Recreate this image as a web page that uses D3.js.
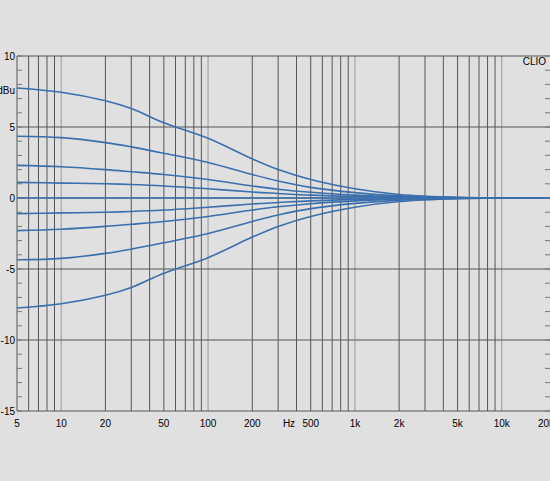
<!DOCTYPE html><html><head><meta charset="utf-8"><script src="https://cdn.jsdelivr.net/npm/d3@7"></script>
<style>body{margin:0;background:#e0e0e0}text{font-family:"Liberation Sans",Arial,sans-serif;font-size:10px;fill:#000}</style></head><body>
<svg id="c" width="550" height="481"></svg>
<script>
const freqs=[5,10,20,30,50,100,200,300,500,1000,2000,5000,20000];
const curve1=[7.75,7.45,6.85,6.3,5.3,4.2,2.75,2.0,1.3,0.65,0.25,0.05,0];
const curve2=[4.35,4.25,3.9,3.6,3.15,2.5,1.65,1.2,0.75,0.38,0.15,0.03,0];
const curve3=[2.3,2.2,2.0,1.85,1.65,1.3,0.85,0.62,0.4,0.2,0.08,0.02,0];
const curve4=[1.1,1.05,1.0,0.95,0.85,0.65,0.42,0.32,0.2,0.1,0.04,0.01,0];
const curve0=[0,0,0,0,0,0,0,0,0,0,0,0,0];
const positive=[curve1,curve2,curve3,curve4];
const xTicks=[5,10,20,50,100,200,500,1000,2000,5000,10000,20000];
const xLabels=["5","10","20","50","100","200","500","1k","2k","5k","10k","20k"];
const yTicks=[10,5,0,-5,-10,-15];
const svg=d3.select("#c");
const x=d3.scaleLog().domain([5,20000]).range([17,546]);
const y=d3.scaleLinear().domain([-15,10]).range([411,56]);
const R=550;
const grid=[];for(let d=1;d<=10000;d*=10)for(let m=1;m<10;m++){const f=d*m;if(f>5&&f<20000)grid.push(f);}
grid.forEach(f=>svg.append("line").attr("x1",x(f)).attr("x2",x(f)).attr("y1",56).attr("y2",411).attr("stroke",[10,100,1000,10000].includes(f)?"#999":"#555").attr("stroke-width",1));
[5,0,-5,-10].forEach(v=>svg.append("line").attr("x1",17).attr("x2",R).attr("y1",y(v)).attr("y2",y(v)).attr("stroke","#555"));
svg.append("line").attr("x1",17).attr("x2",R).attr("y1",56).attr("y2",56).attr("stroke","#555");
svg.append("line").attr("x1",17).attr("x2",R).attr("y1",411).attr("y2",411).attr("stroke","#555");
svg.append("line").attr("x1",17).attr("x2",17).attr("y1",56).attr("y2",411).attr("stroke","#555");
for(let v=-15;v<=10;v++){svg.append("line").attr("x1",17).attr("x2",22).attr("y1",y(v)).attr("y2",y(v)).attr("stroke","#777");
svg.append("line").attr("x1",545).attr("x2",R).attr("y1",y(v)).attr("y2",y(v)).attr("stroke","#777");}
yTicks.forEach(v=>svg.append("text").attr("x",15).attr("y",y(v)+3.5).attr("text-anchor","end").text(v));
svg.append("text").attr("x",15).attr("y",94).attr("text-anchor","end").text("dBu");
xTicks.forEach((f,i)=>svg.append("text").attr("x",x(f)).attr("y",427).attr("text-anchor","middle").text(xLabels[i]));
svg.append("text").attr("x",289).attr("y",427).attr("text-anchor","middle").text("Hz");
svg.append("text").attr("x",546).attr("y",65).attr("text-anchor","end").text("CLIO");
const line=d3.line().x((d,i)=>x(freqs[i])).y(d=>y(d)).curve(d3.curveCatmullRom.alpha(0.5));
const all=[...positive,curve0,...positive.map(c=>c.map(v=>-v))];
all.forEach(c=>svg.append("path").attr("d",line(c)).attr("fill","none").attr("stroke","#3a6fad").attr("stroke-width",1.6));
svg.append("line").attr("x1",x(20000)).attr("x2",R).attr("y1",y(0)).attr("y2",y(0)).attr("stroke","#3a6fad").attr("stroke-width",1.6);
</script></body></html>
